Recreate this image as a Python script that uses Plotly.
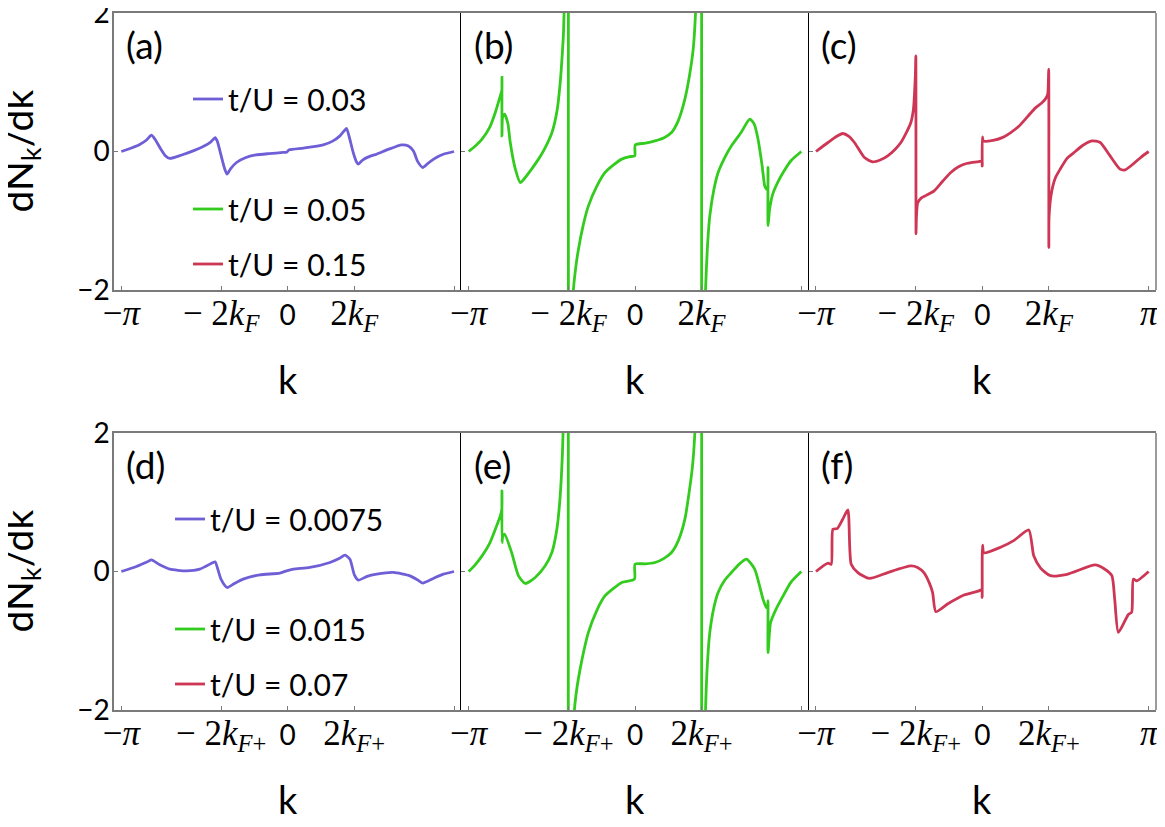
import math
import plotly.graph_objects as go

PI = math.pi
KF = PI / 5  # estimated Fermi momentum (tick at -2kF reads as -0.4*pi)

# ---------------- data ----------------
k_a = [-3.1416, -2.95, -2.795, -2.66, -2.573, -2.50, -2.40, -2.31, -2.227, -2.0, -1.75, -1.55,
       -1.45, -1.37, -1.33, -1.26, -1.19, -1.144, -1.08, -0.966, -0.80, -0.60, -0.35, -0.085,
       -0.02, 0.03, 0.3, 0.672, 0.85, 0.987, 1.07, 1.113, 1.16, 1.24, 1.30, 1.333, 1.42, 1.55,
       1.68, 1.9, 2.153, 2.28, 2.373, 2.46, 2.55, 2.65, 2.80, 2.94, 3.1416]
y_a = [0.0, 0.05, 0.10, 0.17, 0.236, 0.17, 0.04, -0.06, -0.10, -0.05, 0.02, 0.09,
       0.14, 0.20, 0.15, -0.05, -0.25, -0.327, -0.25, -0.159, -0.09, -0.05, -0.03, -0.014,
       -0.01, 0.024, 0.05, 0.096, 0.15, 0.226, 0.30, 0.332, 0.22, -0.02, -0.15, -0.183, -0.12, -0.07,
       -0.039, 0.03, 0.096, 0.08, 0.01, -0.15, -0.231, -0.17, -0.09, -0.039, 0.0]

k_b = [-3.1416, -3.015, -2.889, -2.75, -2.638, -2.544, -2.515, -2.513, -2.512, -2.50, -2.463,
       -2.40, -2.356, -2.26, -2.167, -2.10, -1.95, -1.822, -1.70, -1.57, -1.47, -1.413, -1.37,
       -1.35, -1.32, -1.29, -1.2566, -1.2566, -1.19, -1.163, -1.12, -1.068, -0.98, -0.88, -0.72,
       -0.565, -0.40, -0.25, -0.10, -0.005, 0.005, 0.2, 0.377, 0.55, 0.69, 0.82, 0.942, 1.03, 1.099,
       1.143, 1.19, 1.2566, 1.2566, 1.31, 1.332, 1.37, 1.413, 1.49, 1.57, 1.70, 1.822, 2.0, 2.167,
       2.25, 2.324, 2.40, 2.45, 2.48, 2.505, 2.512, 2.513, 2.54, 2.60, 2.70, 2.80, 2.95, 3.1416]
y_b = [0.0, 0.08, 0.178, 0.34, 0.563, 0.804, 0.88, 1.069, 0.226, 0.50, 0.539,
       0.40, 0.13, -0.255, -0.448, -0.40, -0.25, -0.11, 0.05, 0.27, 0.60, 0.99, 1.45,
       1.72, 2.6, 4.0, 6.0, -6.0, -3.0, -2.0, -1.68, -1.41, -1.07, -0.785, -0.50,
       -0.303, -0.19, -0.11, -0.075, -0.063, 0.096, 0.12, 0.154, 0.20, 0.274, 0.45, 0.756, 1.10, 1.478,
       2.0, 3.5, 6.0, -6.0, -3.0, -2.0, -1.35, -0.93, -0.55, -0.303, -0.08, 0.082, 0.27, 0.467,
       0.40, 0.178, -0.20, -0.496, -0.54, -0.55, -0.23, -1.07, -0.85, -0.62, -0.44, -0.30, -0.13, 0.0]

k_c = [-3.1416, -2.916, -2.75, -2.637, -2.52, -2.415, -2.227, -2.07, -1.92, -1.787, -1.65,
       -1.538, -1.45, -1.35, -1.30, -1.28, -1.265, -1.256, -1.252, -1.245, -1.22, -1.15, -1.05,
       -0.91, -0.75, -0.596, -0.45, -0.282, -0.10, -0.005, -0.003, 0.0, 0.02, 0.2, 0.376, 0.53,
       0.69, 0.85, 1.003, 1.12, 1.19, 1.235, 1.253, 1.256, 1.26, 1.30, 1.38, 1.474, 1.60, 1.725,
       1.9, 2.069, 2.226, 2.40, 2.60, 2.696, 2.85, 3.0, 3.1416]
y_c = [0.0, 0.13, 0.22, 0.26, 0.22, 0.13, -0.087, -0.15, -0.12, -0.063, 0.03,
       0.13, 0.25, 0.419, 0.62, 0.85, 1.10, 1.38, -1.19, -0.95, -0.74, -0.67, -0.63,
       -0.568, -0.43, -0.303, -0.22, -0.17, -0.15, -0.14, -0.21, 0.21, 0.15, 0.16, 0.20, 0.27,
       0.365, 0.50, 0.63, 0.70, 0.756, 0.83, 1.19, -1.386, -0.95, -0.62, -0.38, -0.25, -0.10, -0.02,
       0.09, 0.154, 0.13, -0.05, -0.255, -0.265, -0.18, -0.08, 0.0]

k_d = [-3.1416, -2.857, -2.65, -2.573, -2.416, -2.227, -1.912, -1.66, -1.408, -1.37, -1.26,
       -1.144, -1.0, -0.841, -0.526, -0.148, -0.02, 0.107, 0.42, 0.798, 0.98, 1.081, 1.176,
       1.26, 1.333, 1.50, 1.68, 1.995, 2.31, 2.45, 2.55, 2.75, 2.94, 3.1416]
y_d = [0.0, 0.072, 0.14, 0.168, 0.096, 0.034, 0.01, 0.034, 0.13, 0.14, -0.11,
       -0.231, -0.17, -0.11, -0.048, -0.024, 0.01, 0.034, 0.058, 0.13, 0.19, 0.236, 0.178,
       -0.05, -0.125, -0.07, -0.039, -0.014, -0.063, -0.12, -0.168, -0.10, -0.039, 0.0]

k_e = [-3.1416, -3.015, -2.889, -2.75, -2.638, -2.544, -2.515, -2.513, -2.512, -2.50, -2.463,
       -2.33, -2.20, -2.073, -1.885, -1.696, -1.57, -1.476, -1.413, -1.37, -1.33, -1.29,
       -1.2566, -1.2566, -1.17, -1.144, -1.10, -1.037, -0.88, -0.72, -0.565, -0.40, -0.25, -0.01,
       0.0, 0.2, 0.377, 0.55, 0.69, 0.82, 0.942, 1.08, 1.13, 1.18, 1.2566, 1.2566, 1.31, 1.332,
       1.37, 1.413, 1.49, 1.57, 1.70, 1.822, 1.96, 2.104, 2.26, 2.418, 2.48, 2.505, 2.512, 2.513,
       2.56, 2.66, 2.764, 2.95, 3.1416]
y_e = [0.0, 0.10, 0.226, 0.40, 0.611, 0.804, 0.90, 1.165, 0.419, 0.50, 0.539,
       0.274, -0.063, -0.173, -0.087, 0.082, 0.274, 0.611, 1.09, 1.72, 2.8, 4.0,
       6.0, -6.0, -3.0, -2.0, -1.70, -1.41, -0.88, -0.56, -0.35, -0.24, -0.159, -0.11,
       0.106, 0.11, 0.13, 0.19, 0.274, 0.45, 0.756, 1.478, 2.0, 3.5, 6.0, -6.0, -3.0, -2.0,
       -1.30, -0.88, -0.52, -0.303, -0.12, -0.014, 0.10, 0.178, 0.034, -0.40, -0.52, -0.50, -0.42, -1.17,
       -0.74, -0.55, -0.40, -0.15, 0.0]

k_f = [-3.1416, -2.916, -2.854, -2.822, -2.741, -2.64, -2.54, -2.477, -2.351, -2.133, -1.787,
       -1.349, -1.223, -1.10, -1.004, -0.94, -0.878, -0.658, -0.346, -0.064, -0.01, -0.003, 0.003,
       0.03, 0.344, 0.60, 0.877, 0.971, 1.10, 1.285, 1.60, 2.131, 2.30, 2.446, 2.50, 2.57,
       2.758, 2.82, 2.852, 2.916, 3.1416]
y_f = [0.0, 0.12, 0.105, 0.61, 0.62, 0.75, 0.89, 0.105, -0.015, -0.10, -0.015,
       0.08, 0.058, -0.02, -0.16, -0.30, -0.58, -0.47, -0.34, -0.28, -0.26, -0.375, 0.38,
       0.27, 0.35, 0.45, 0.60, 0.226, 0.05, -0.06, -0.04, 0.096, 0.04, -0.06, -0.40, -0.88,
       -0.62, -0.59, -0.11, -0.135, 0.0]

t_over_U = ["0.03", "0.05", "0.15", "0.0075", "0.015", "0.07"]
panel_labels = ["(a)", "(b)", "(c)", "(d)", "(e)", "(f)"]
y_ticks = [-2, 0, 2]
y_tick_text = ["\u22122", "0", "2"]
k_ticks = [-PI, -2 * KF, 0, 2 * KF, PI]

ZERO = '<span style="font-family:Lato;font-size:28px">0</span>'
tick_text_top = ["\u2212<i>\u03c0</i>", "\u2212 2<i>k</i><sub><i>F</i></sub>", ZERO,
                 "2<i>k</i><sub><i>F</i></sub>", "<i>\u03c0</i>"]
tick_text_bot = ["\u2212<i>\u03c0</i>", "\u2212 2<i>k</i><sub><i>F</i>+</sub>", ZERO,
                 "2<i>k</i><sub><i>F</i>+</sub>", "<i>\u03c0</i>"]

colors = ["#6e5fd7", "#33cc1e", "#cd3755"]
series = [(k_a, y_a), (k_b, y_b), (k_c, y_c), (k_d, y_d), (k_e, y_e), (k_f, y_f)]

# ---------------- layout geometry (page pixels, page body has an 8px margin) ----------------
OFF = 8
W, H = 1165 - 2 * OFF, 827 - 2 * OFF


def fx(s):
    return (s - OFF) / W


def fy(s):
    return 1 - (s - OFF) / H


left, right = 114, 1156
pw = (right - left) / 3
rows_px = [(13, 290), (433, 710)]
GRAY = "#7a7a7a"

fig = go.Figure()
layout = dict(width=W, height=H, margin=dict(l=0, r=0, t=0, b=0, autoexpand=False),
              paper_bgcolor="white", plot_bgcolor="white", showlegend=True)

legend_pos = {  # (legend box left px, row centre px) on the page
    0: (188, 99), 1: (188, 209), 2: (188, 264),
    3: (170, 519), 4: (170, 629), 5: (170, 684),
}

annotations = []
shapes = []
for i in range(6):
    r, c = divmod(i, 3)
    n = i + 1
    xa = "x" if n == 1 else f"x{n}"
    ya = "y" if n == 1 else f"y{n}"
    xd = [fx(left + c * pw), fx(left + (c + 1) * pw)]
    top, bot = rows_px[r]
    yd = [fy(bot), fy(top)]
    ttext = list(tick_text_top if r == 0 else tick_text_bot)
    if c < 2:
        ttext[-1] = ""
    layout["xaxis" if n == 1 else f"xaxis{n}"] = dict(
        domain=xd, anchor=ya, range=[-3.28, 3.28], showgrid=False, zeroline=False,
        showline=True, linecolor=GRAY, linewidth=1.5, mirror=True, automargin=False,
        ticks="inside", ticklen=4, tickcolor=GRAY, tickwidth=1,
        tickmode="array", tickvals=k_ticks, ticktext=ttext,
        tickfont=dict(family="Liberation Serif", size=35, color="black"),
        ticklabelstandoff=-9, ticklabeloverflow="allow", fixedrange=True)
    layout["yaxis" if n == 1 else f"yaxis{n}"] = dict(
        domain=yd, anchor=xa, range=[-2, 2], showgrid=False, zeroline=False,
        showline=True, linecolor=GRAY if c == 0 else "black", automargin=False,
        linewidth=1.5 if c == 0 else 1, mirror=False,
        ticks="inside", ticklen=4, tickcolor=GRAY, tickwidth=1,
        tickmode="array", tickvals=y_ticks, ticktext=y_tick_text,
        showticklabels=(c == 0), ticklabelstandoff=-3, ticklabeloverflow="allow",
        tickfont=dict(family="Lato", size=28, color="black"), fixedrange=True)
    if c == 2:
        shapes.append(dict(type="line", xref=f"{xa} domain", yref=f"{ya} domain",
                           x0=1, x1=1, y0=0, y1=1,
                           line=dict(color=GRAY, width=1.5)))
    lg = "legend" if n == 1 else f"legend{n}"
    lx, ly = legend_pos[i]
    layout[lg] = dict(x=fx(lx), y=fy(ly), xanchor="left", yanchor="middle",
                      bgcolor="rgba(0,0,0,0)", borderwidth=0,
                      font=dict(family="Lato", size=30, color="black"))
    kx, ky = series[i]
    fig.add_trace(go.Scatter(
        x=kx, y=ky, mode="lines", xaxis=xa, yaxis=ya, legend=lg,
        name=f"t/U = {t_over_U[i]}",
        line=dict(color=colors[c], width=2.8, shape="spline", smoothing=0.6)))
    annotations.append(dict(text=panel_labels[i], xref=f"{xa} domain", yref=f"{ya} domain",
                            x=0.03, y=0.885, xanchor="left", yanchor="middle",
                            showarrow=False, font=dict(family="Lato", size=37, color="black")))
    annotations.append(dict(text="k", xref=xa, yref="paper", x=0,
                            y=fy(379 if r == 0 else 799), xanchor="center",
                            yanchor="middle", showarrow=False,
                            font=dict(family="Lato", size=38, color="black")))

for r in range(2):
    top, bot = rows_px[r]
    annotations.append(dict(text="dN<sub>k</sub>/dk", xref="paper", yref="paper",
                            x=fx(20), y=fy((top + bot) / 2), textangle=-90,
                            xanchor="center", yanchor="middle", showarrow=False,
                            font=dict(family="Lato", size=39, color="black")))

layout["annotations"] = annotations
layout["shapes"] = shapes
fig.update_layout(**layout)
fig.write_html("out.html")
